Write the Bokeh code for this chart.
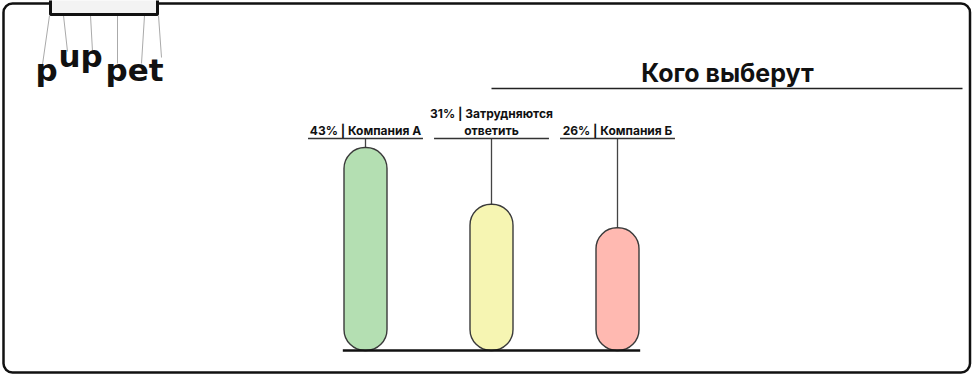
from bokeh.plotting import figure
from bokeh.models import Range1d, ColumnDataSource
from bokeh.core.properties import value
from bokeh.embed import file_html
from bokeh.resources import INLINE

# ---- data ----
categories = ["Компания А", "Затрудняются\nответить", "Компания Б"]
shares = [43, 31, 26]
colors = ["#b4dfb2", "#f6f5b2", "#ffb9b1"]
title_text = "Кого выберут"

FONT = "Inter"
LOGO_FONT = "DejaVu Sans"
S = 4.72                      # pixels per percentage point
LABEL_Y = (350 - 138) / S     # label row height in data units
H = 375


def fy(v):
    """pixel-from-top to decoration range coordinate"""
    if isinstance(v, list):
        return [H - a for a in v]
    return H - v


xs = list(range(len(shares)))
labels = [f"{v}% | {c}" for v, c in zip(shares, categories)]

p = figure(width=972, height=375, output_backend="svg", toolbar_location=None,
           x_range=Range1d(-365 / 126, (972 - 365) / 126),
           y_range=Range1d(-25 / S, 350 / S),
           min_border=0, outline_line_color=None, background_fill_color="white",
           border_fill_color="white")
p.xaxis.visible = False
p.yaxis.visible = False
p.grid.visible = False

p.extra_x_ranges = {"px": Range1d(0, 972)}
p.extra_y_ranges = {"px": Range1d(0, H)}
px = dict(x_range_name="px", y_range_name="px")

# ---- card frame and logo tab ----
p.quad(left=[3], right=[969.5], top=[fy(3)], bottom=[fy(372)], fill_color=None,
       line_color="#111111", line_width=2.5, border_radius=9, **px)
p.segment(x0=[49, 63, 90, 117, 144, 158], y0=fy([15] * 6),
          x1=[42, 67, 92, 117, 141, 161], y1=fy([64, 51, 51, 63, 63, 57]),
          line_color="#aaaaaa", line_width=1, **px)
p.quad(left=[50], right=[157], top=[fy(-6)], bottom=[fy(14)], fill_color="#f3f3f3",
       line_color="#111111", line_width=3, **px)

# logo text (each piece contains a descender so "bottom" aligns consistently)
logo_kw = dict(text_font=value(LOGO_FONT), text_font_style="bold", text_font_size="31px",
               text_baseline="bottom", text_align="left", text_color="#111111", **px)
p.text(x=[35, 58, 105], y=fy([87, 73, 87]), text=["p", "up", "pet"], **logo_kw)

# title + underline
p.text(x=[727], y=[fy(87)], text=[title_text], text_font=value(FONT), text_font_style="bold",
       text_font_size="25px", text_baseline="bottom", text_align="center",
       text_color="#111111", **px)
p.segment(x0=[491], y0=[fy(88)], x1=[962], y1=[fy(88)], line_color="#222222",
          line_width=1.5, **px)

# ---- chart ----
src = ColumnDataSource(dict(x=xs, top=shares, color=colors, label=labels,
                            ly=[LABEL_Y] * len(xs),
                            ul=[x - 0.456 for x in xs], ur=[x + 0.456 for x in xs]))

# leader lines
p.segment(x0="x", y0="top", x1="x", y1="ly", source=src, line_color="#444444", line_width=1.3)
# label underlines
p.segment(x0="ul", y0="ly", x1="ur", y1="ly", source=src, line_color="#333333", line_width=1.3)
# labels
p.text(x="x", y="ly", text="label", source=src, text_font=value(FONT), text_font_style="bold",
       text_font_size="12px", text_align="center", text_baseline="bottom",
       text_color="#111111", y_offset=-1, text_line_height=1.1)

# pill-shaped bars
p.vbar(x="x", top="top", bottom=0, width=43 / 126, source=src, fill_color="color",
       line_color="#3a3a3a", line_width=1.4, border_radius=21)

# baseline
p.segment(x0=[-0.18], y0=[0], x1=[2.18], y1=[0], line_color="#111111", line_width=2.5)

open("out.html", "w").write(file_html(p, INLINE))
